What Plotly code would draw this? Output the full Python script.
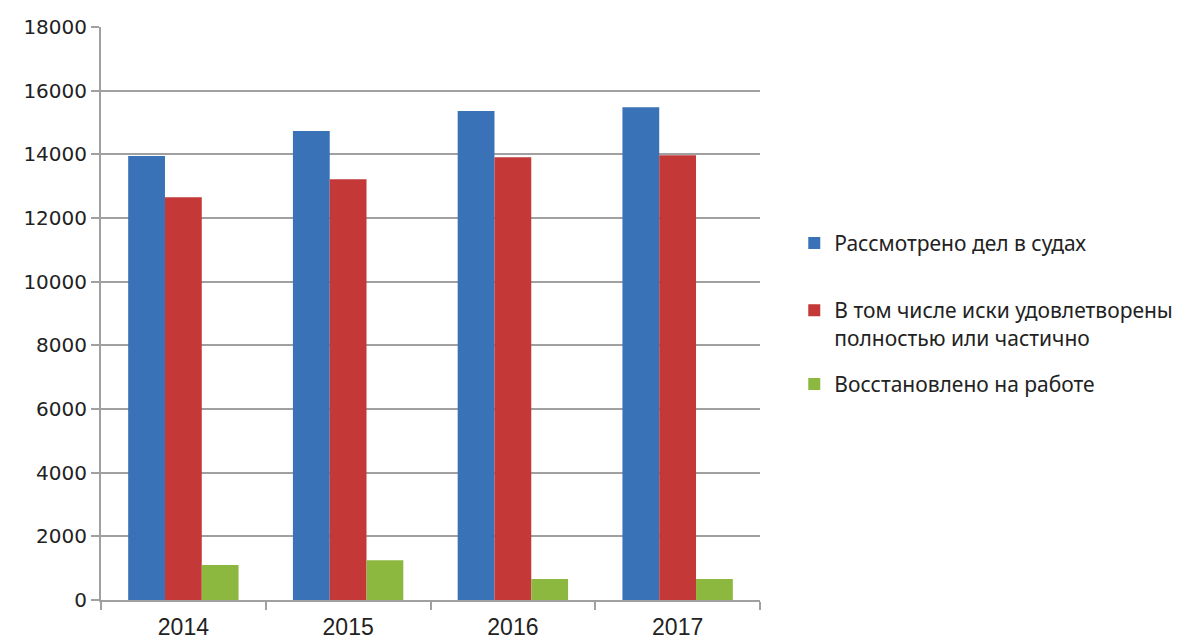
import plotly.graph_objects as go

years = ["2014", "2015", "2016", "2017"]
considered = [13950, 14730, 15360, 15480]
satisfied = [12650, 13220, 13910, 13970]
reinstated = [1100, 1250, 660, 660]

names = ["Рассмотрено дел в судах",
         "В том числе иски удовлетворены<br>полностью или частично",
         "Восстановлено на работе"]
colors = ["#3a72b8", "#c43838", "#8cb840"]
series = [considered, satisfied, reinstated]
legend_ids = ["legend", "legend2", "legend3"]
legend_y = [0.658, 0.541, 0.412]

fig = go.Figure()
for n, c, v, lg in zip(names, colors, series, legend_ids):
    fig.add_trace(go.Bar(x=years, y=v, name=n, legend=lg,
                         marker=dict(color=c, line=dict(width=0))))

grid = "#a0a0a0"
legend_common = dict(xanchor="left", font=dict(family="Noto Sans", size=21, color="#222"),
                     valign="top", bgcolor="rgba(0,0,0,0)", itemsizing="constant",
                     borderwidth=0)
layout_legends = {}
for lg, ly in zip(legend_ids, legend_y):
    layout_legends[lg] = dict(x=1.052, y=ly, yanchor="top", **legend_common)

# The page body has an 8px margin, so the figure is sized/offset to compensate.
fig.update_layout(
    width=1182, height=636,
    margin=dict(l=93, r=430, t=19, b=44),
    paper_bgcolor="white", plot_bgcolor="white",
    barmode="group", bargap=0.33, bargroupgap=0,
    font=dict(family="DejaVu Sans", size=20, color="#222"),
    showlegend=True,
    xaxis=dict(type="category", showgrid=False, showline=True, linecolor=grid, linewidth=2,
               ticks="outside", tickson="boundaries", ticklen=8, tickcolor=grid, tickwidth=2,
               automargin=False, ticklabelstandoff=5,
               tickfont=dict(family="Liberation Sans", size=23, color="#222")),
    yaxis=dict(range=[0, 18000], dtick=2000, tickformat="d", showgrid=True, gridcolor=grid,
               gridwidth=2, showline=True, linecolor=grid, linewidth=2, zeroline=False,
               ticks="outside", ticklen=8, tickcolor=grid, tickwidth=2, automargin=False,
               tickfont=dict(family="DejaVu Sans", size=20, color="#222")),
    **layout_legends,
)
fig.write_html("out.html")
